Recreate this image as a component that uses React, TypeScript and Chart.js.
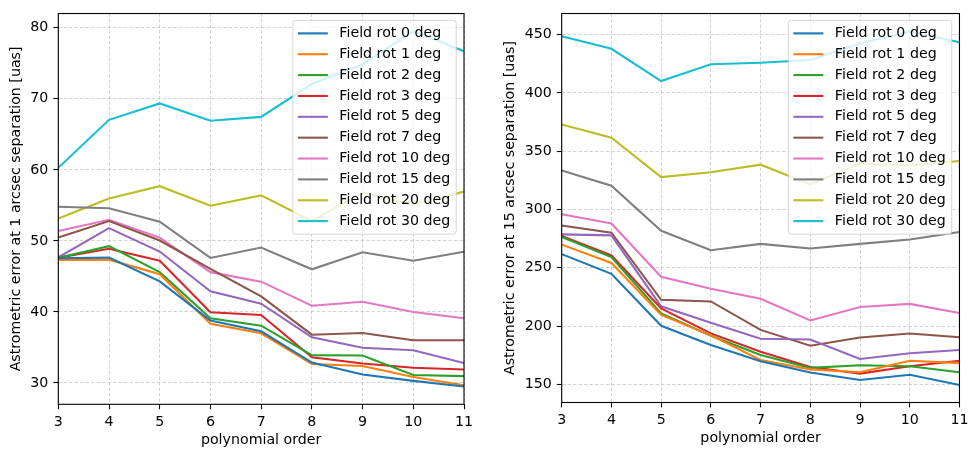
import React, { useEffect, useRef } from 'react';
import { Chart, registerables } from 'chart.js';

Chart.register(...registerables);

// ---------- data ----------
const orders = [3, 4, 5, 6, 7, 8, 9, 10, 11];

const seriesLabels = [
  'Field rot 0 deg',
  'Field rot 1 deg',
  'Field rot 2 deg',
  'Field rot 3 deg',
  'Field rot 5 deg',
  'Field rot 7 deg',
  'Field rot 10 deg',
  'Field rot 15 deg',
  'Field rot 20 deg',
  'Field rot 30 deg',
];

const seriesColors = [
  '#1f77b4', '#ff7f0e', '#2ca02c', '#d62728', '#9467bd',
  '#8c564b', '#e377c2', '#7f7f7f', '#bcbd22', '#17becf',
];

// Astrometric error at 1 arcsec separation [uas]
const sep1Rot0 = [47.55, 47.64, 44.3, 38.8, 37.27, 32.87, 31.2, 30.3, 29.5];
const sep1Rot1 = [47.3, 47.36, 45.3, 38.33, 36.99, 32.66, 32.4, 30.85, 29.67];
const sep1Rot2 = [47.64, 49.26, 45.6, 39.12, 38.06, 33.92, 33.86, 31.13, 30.97];
const sep1Rot3 = [47.64, 48.9, 47.2, 39.95, 39.58, 33.63, 32.75, 32.15, 31.9];
const sep1Rot5 = [47.7, 51.8, 48.5, 42.9, 41.16, 36.42, 34.95, 34.62, 32.82];
const sep1Rot7 = [50.46, 52.78, 50.05, 46.06, 42.18, 36.8, 37.03, 36.01, 36.01];
const sep1Rot10 = [51.4, 52.96, 50.46, 45.6, 44.26, 40.88, 41.43, 40.0, 39.1];
const sep1Rot15 = [54.8, 54.6, 52.7, 47.6, 49.07, 46.0, 48.4, 47.2, 48.47];
const sep1Rot20 = [53.15, 55.97, 57.7, 54.95, 56.4, 52.8, 56.8, 55.1, 56.94];
const sep1Rot30 = [60.28, 67.04, 69.35, 66.9, 67.45, 72.08, 74.86, 79.5, 76.7];

// Astrometric error at 15 arcsec separation [uas]
const sep15Rot0 = [261.7, 244.8, 200.2, 183.8, 169.8, 160.2, 153.7, 158.2, 149.4];
const sep15Rot1 = [269.9, 254.1, 209.5, 192.0, 170.9, 162.8, 160.3, 170.2, 168.2];
const sep15Rot2 = [276.4, 259.2, 210.9, 191.7, 175.2, 164.1, 166.3, 165.5, 160.3];
const sep15Rot3 = [277.3, 260.6, 215.2, 193.7, 178.0, 164.9, 159.2, 165.5, 170.2];
const sep15Rot5 = [278.7, 277.8, 216.9, 202.8, 189.1, 188.5, 171.8, 176.6, 179.5];
const sep15Rot7 = [286.3, 280.1, 222.5, 221.1, 196.7, 183.1, 190.2, 193.6, 190.4];
const sep15Rot10 = [295.9, 288.0, 242.3, 232.1, 223.4, 204.8, 216.3, 219.0, 211.2];
const sep15Rot15 = [333.4, 320.4, 281.8, 265.1, 270.5, 266.5, 270.5, 274.2, 280.7];
const sep15Rot20 = [373.0, 361.7, 327.8, 332.0, 338.5, 321.6, 339.4, 338.0, 341.6];
const sep15Rot30 = [448.6, 437.9, 410.2, 424.6, 426.0, 428.3, 442.4, 452.8, 443.5];

const xTicks = [3, 4, 5, 6, 7, 8, 9, 10, 11];
const yTicksSep1 = [30, 40, 50, 60, 70, 80];
const yTicksSep15 = [150, 200, 250, 300, 350, 400, 450];

const sep1Series = [sep1Rot0, sep1Rot1, sep1Rot2, sep1Rot3, sep1Rot5, sep1Rot7, sep1Rot10, sep1Rot15, sep1Rot20, sep1Rot30];
const sep15Series = [sep15Rot0, sep15Rot1, sep15Rot2, sep15Rot3, sep15Rot5, sep15Rot7, sep15Rot10, sep15Rot15, sep15Rot20, sep15Rot30];

// ---------- styling ----------
const FONT_FAMILY = '"DejaVu Sans", sans-serif';
const FS = 14.2;
const CANVAS_H = 453;

const frameLegendPlugin = {
  id: 'frameLegend',
  afterDatasetsDraw(chart: any) {
    const { ctx, chartArea: a } = chart;
    ctx.save();
    // spines
    ctx.strokeStyle = '#000';
    ctx.lineWidth = 1.1;
    ctx.setLineDash([]);
    ctx.strokeRect(a.left, a.top, a.right - a.left, a.bottom - a.top);

    // legend box (matplotlib-like)
    const ds = chart.data.datasets;
    ctx.font = `${FS}px ${FONT_FAMILY}`;
    const padL = 5;
    const handle = 30;
    const gap = 11.5;
    const padR = 6;
    const padV = 5.6;
    const rowH = 20.86;
    let maxW = 0;
    ds.forEach((d: any) => {
      maxW = Math.max(maxW, ctx.measureText(d.label).width);
    });
    const w = padL + handle + gap + maxW + padR;
    const h = padV * 2 + 13.9 + rowH * (ds.length - 1) + 1;
    const x = a.right - 7.8 - w;
    const y = a.top + 6.8;
    const r = 3;
    ctx.beginPath();
    ctx.moveTo(x + r, y);
    ctx.lineTo(x + w - r, y);
    ctx.quadraticCurveTo(x + w, y, x + w, y + r);
    ctx.lineTo(x + w, y + h - r);
    ctx.quadraticCurveTo(x + w, y + h, x + w - r, y + h);
    ctx.lineTo(x + r, y + h);
    ctx.quadraticCurveTo(x, y + h, x, y + h - r);
    ctx.lineTo(x, y + r);
    ctx.quadraticCurveTo(x, y, x + r, y);
    ctx.closePath();
    ctx.fillStyle = 'rgba(255,255,255,0.8)';
    ctx.fill();
    ctx.strokeStyle = 'rgba(204,204,204,0.8)';
    ctx.lineWidth = 1;
    ctx.stroke();

    ctx.textBaseline = 'middle';
    ctx.textAlign = 'left';
    ds.forEach((d: any, i: number) => {
      const cy = y + padV + 13.9 / 2 + i * rowH + 0.5;
      ctx.strokeStyle = d.borderColor;
      ctx.lineWidth = 2.08;
      ctx.beginPath();
      ctx.moveTo(x + padL, cy);
      ctx.lineTo(x + padL + handle, cy);
      ctx.stroke();
      ctx.fillStyle = '#000';
      ctx.fillText(d.label, x + padL + handle + gap, cy);
    });
    ctx.restore();
  },
};

type PanelSpec = {
  series: number[][];
  yMin: number;
  yMax: number;
  yTicks: number[];
  yTitle: string;
  canvasLeft: number;
  canvasWidth: number;
  plotLeft: number;
  plotRight: number;
  plotTop: number;
  plotBottom: number;
  yTitleCenterX: number;
  xTitleCenterY: number;
};

function makeConfig(p: PanelSpec): any {
  const font = { family: FONT_FAMILY, size: FS };
  const lineHeight = FS * 1.2;
  const gridOpts = {
    color: 'rgba(176,176,176,0.7)',
    lineWidth: 0.8,
    drawTicks: true,
    tickLength: 4.9,
    tickColor: '#000',
    tickWidth: 1.1,
    tickBorderDash: [],
  };
  return {
    type: 'line',
    data: {
      datasets: p.series.map((vals, i) => ({
        label: seriesLabels[i],
        data: orders.map((o, j) => ({ x: o, y: vals[j] })),
        borderColor: seriesColors[i],
        backgroundColor: seriesColors[i],
        borderWidth: 2.08,
        pointRadius: 0,
        pointHoverRadius: 0,
        tension: 0,
        fill: false,
      })),
    },
    options: {
      responsive: false,
      maintainAspectRatio: false,
      animation: false,
      devicePixelRatio: 1,
      layout: {
        padding: {
          left: 0,
          top: p.plotTop,
          right: p.canvasWidth - p.plotRight,
          bottom: 0,
        },
      },
      plugins: {
        legend: { display: false },
        tooltip: { enabled: false },
        title: { display: false },
      },
      scales: {
        x: {
          type: 'linear',
          min: orders[0],
          max: orders[orders.length - 1],
          afterBuildTicks: (axis: any) => {
            axis.ticks = xTicks.map((v) => ({ value: v }));
          },
          afterFit: (axis: any) => {
            axis.height = CANVAS_H - p.plotBottom;
          },
          ticks: {
            font,
            color: '#000',
            padding: 4.5,
            maxRotation: 0,
            autoSkip: false,
            callback: (v: any) => String(v),
          },
          grid: gridOpts,
          border: { display: false, dash: [3.5, 2] },
          title: {
            display: true,
            text: 'polynomial order',
            font,
            color: '#000',
            padding: { top: 0, bottom: CANVAS_H - p.xTitleCenterY - lineHeight / 2 },
          },
        },
        y: {
          type: 'linear',
          min: p.yMin,
          max: p.yMax,
          afterBuildTicks: (axis: any) => {
            axis.ticks = p.yTicks.map((v) => ({ value: v }));
          },
          afterFit: (axis: any) => {
            axis.width = p.plotLeft;
          },
          ticks: {
            font,
            color: '#000',
            padding: 5,
            autoSkip: false,
            callback: (v: any) => String(v),
          },
          grid: gridOpts,
          border: { display: false, dash: [3.5, 2] },
          title: {
            display: true,
            text: p.yTitle,
            font,
            color: '#000',
            padding: { top: p.yTitleCenterX - lineHeight / 2, bottom: 0 },
          },
        },
      },
    },
    plugins: [frameLegendPlugin],
  };
}

const leftPanel: PanelSpec = {
  series: sep1Series,
  yMin: 27.0,
  yMax: 82.0,
  yTicks: yTicksSep1,
  yTitle: 'Astrometric error at 1 arcsec separation [uas]',
  canvasLeft: 0,
  canvasWidth: 487,
  plotLeft: 58.3,
  plotRight: 464,
  plotTop: 8.3,
  plotBottom: 404.3,
  yTitleCenterX: 16.7,
  xTitleCenterY: 440,
};

const rightPanel: PanelSpec = {
  series: sep15Series,
  yMin: 134.4,
  yMax: 468.2,
  yTicks: yTicksSep15,
  yTitle: 'Astrometric error at 15 arcsec separation [uas]',
  canvasLeft: 487,
  canvasWidth: 486,
  plotLeft: 74.7,
  plotRight: 476.3,
  plotTop: 8.3,
  plotBottom: 402.5,
  yTitleCenterX: 23.7,
  xTitleCenterY: 438.3,
};

function Panel({ spec }: { spec: PanelSpec }) {
  const ref = useRef<HTMLCanvasElement | null>(null);
  useEffect(() => {
    if (!ref.current) return;
    const chart = new Chart(ref.current, makeConfig(spec));
    return () => chart.destroy();
  }, [spec]);
  return (
    <canvas
      ref={ref}
      width={spec.canvasWidth}
      height={CANVAS_H}
      style={{
        position: 'absolute',
        left: spec.canvasLeft,
        top: 0,
        width: spec.canvasWidth,
        height: CANVAS_H,
      }}
    />
  );
}

export default function App() {
  return (
    <div
      style={{
        position: 'absolute',
        left: 0,
        top: 0,
        width: 973,
        height: CANVAS_H,
        background: '#fff',
        overflow: 'hidden',
      }}
    >
      <Panel spec={leftPanel} />
      <Panel spec={rightPanel} />
    </div>
  );
}
